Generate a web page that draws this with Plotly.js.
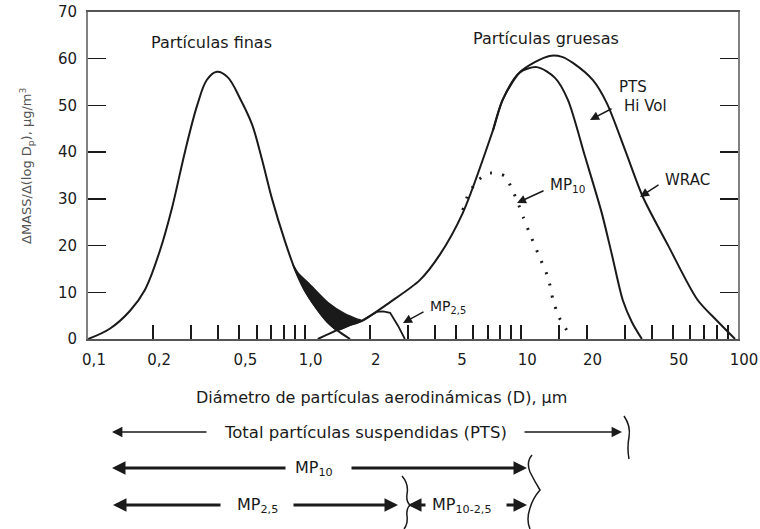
<!DOCTYPE html>
<html>
<head>
<meta charset="utf-8">
<script src="https://cdn.plot.ly/plotly-3.0.1.min.js"></script>
<style>html,body{margin:0;padding:0;background:#fff;}#chart{width:760px;height:529px;}</style>
</head>
<body>
<div id="chart"></div>
<script>
// ---- Data (diameter in µm, value in µg/m³) ----
const fineX = [0.1, 0.126, 0.156, 0.183, 0.215, 0.244, 0.28, 0.319, 0.354, 0.394, 0.442, 0.503, 0.571, 0.635, 0.707, 0.81, 0.9, 0.99, 1.12, 1.27, 1.41, 1.62];
const fineY = [0, 2.2, 6, 10.5, 19, 28, 40, 50, 55.5, 57.2, 56, 51.5, 46, 38.5, 30, 21, 15, 10.8, 6.9, 3.7, 1.9, 0];

const bandUpperX = [0.88, 0.93, 1.06, 1.28, 1.53, 1.74, 1.84];
const bandUpperY = [16, 14.2, 11.6, 7.8, 5.4, 4.3, 3.9];
const bandLowerX = [1.6, 1.41, 1.27, 1.12, 0.99, 0.88];
const bandLowerY = [2.9, 1.9, 3.7, 6.9, 10.8, 16];

const hivolX = [1.15, 1.41, 1.6, 1.84, 2.48, 3.4, 4.2, 5.37, 7.4, 8.2, 9.8, 11.8, 14.3, 16.4, 19.7, 23.5, 26.2, 29.4, 32.4, 36];
const hivolY = [0, 1.9, 2.9, 3.9, 7.9, 12.6, 18, 27, 44.7, 51.2, 57.0, 58.2, 55.9, 51.2, 39, 27, 18, 8.3, 3.6, 0];

const wracX = [7.4, 8.2, 9.8, 11.6, 13.5, 15.4, 17.3, 21.4, 24.8, 30.1, 36.4, 47.5, 65, 80, 96.9];
const wracY = [44.7, 51.2, 57.0, 59.3, 60.6, 60.4, 59.1, 55.4, 50.5, 40.5, 30.4, 20.1, 8.4, 3.9, 0];

const mp10X = [5.37, 5.67, 6.3, 7.16, 8.4, 9.05, 9.65, 10.2, 11.0, 12.2, 13.3, 14.0, 14.9, 16.4];
const mp10Y = [27.6, 30.8, 34, 35.5, 34.9, 32.1, 29.1, 26.1, 22.3, 17.3, 13.1, 8.4, 4.7, 1.5];

const mp25X = [1.84, 2.0, 2.15, 2.3, 2.48, 2.7, 2.9];
const mp25Y = [3.9, 5.0, 5.8, 5.9, 5.6, 2.8, 0];

const xTickVals = [0.1,0.2,0.3,0.4,0.5,0.6,0.7,0.8,0.9,1,2,3,4,5,6,7,8,9,10,15,20,30,40,50,60,70,80,90,100];
const xTickText = ['0,1','0,2','','','0,5','','','','','1,0','2','','','5','','','','','10','','20','','','50','','','','','100'];
const yTickVals = [0,10,20,30,40,50,60,70];

// ---- helpers for pixel placement of decorations ----
const PX = px => (px - 88) / 650;
const PY = py => (339 - py) / 327;
const FONT = 'DejaVu Sans, Liberation Sans, Arial, sans-serif';
const INK = '#1a1a1a';

const line = {color: INK, width: 2, shape: 'spline', smoothing: 1};
const traces = [
  {x: fineX, y: fineY, mode: 'lines', line: line},
  {x: bandUpperX.concat(bandLowerX), y: bandUpperY.concat(bandLowerY), mode: 'lines',
   fill: 'toself', fillcolor: INK, line: {color: INK, width: 1.5, shape: 'spline', smoothing: 0.6}},
  {x: hivolX, y: hivolY, mode: 'lines', line: {color: INK, width: 2, shape: 'spline', smoothing: 0.8}},
  {x: wracX, y: wracY, mode: 'lines', line: {color: INK, width: 2, shape: 'spline', smoothing: 0.8}},
  {x: mp25X, y: mp25Y, mode: 'lines', line: {color: INK, width: 1.8, shape: 'linear'}},
  {x: mp10X, y: mp10Y, mode: 'lines', line: {color: INK, width: 3, dash: '2px,10px', shape: 'spline', smoothing: 0.6}}
].map(t => Object.assign(t, {hoverinfo: 'skip', showlegend: false}));

function T(text, px, py, size, xanchor, extra) {
  return Object.assign({text: text, x: PX(px), y: PY(py), xref: 'paper', yref: 'paper',
    showarrow: false, xanchor: xanchor || 'center', yanchor: 'middle',
    font: {family: FONT, size: size, color: INK}}, extra || {});
}
function A(tailX, tailY, tipX, tipY, width, size) {
  return {text: '', x: PX(tipX), y: PY(tipY), xref: 'paper', yref: 'paper',
    ax: tailX - tipX, ay: tailY - tipY, showarrow: true, arrowhead: 2,
    arrowwidth: width, arrowsize: size, arrowcolor: INK, standoff: 0, startstandoff: 0};
}

const annotations = [
  T('Partículas finas', 211, 42, 16),
  T('Partículas gruesas', 546, 39, 16),
  T('PTS', 617, 87, 15, 'left'),
  T('Hi Vol', 622, 106, 15, 'left'),
  T('WRAC', 663, 180, 15, 'left'),
  T('MP<sub>10</sub>', 548, 185, 15, 'left'),
  T('MP<sub>2,5</sub>', 428, 307, 14, 'left'),
  A(613, 108, 590, 120, 1.5, 1.2),
  A(660, 184, 640, 197, 1.5, 1.2),
  A(545, 190, 517, 203, 1.5, 1.2),
  A(425, 311, 403, 323, 1.5, 1.2),
  T('ΔMASS/Δ(log D<sub>p</sub>), μg/m<sup>3</sup>', 27, 166, 13, 'center', {textangle: -90, font: {family: FONT, size: 13, color: '#555'}}),
  T('Diámetro de partículas aerodinámicas (D), μm', 381, 398, 16),
  // PTS row
  A(208, 432, 112, 432, 1.6, 1.3),
  T('Total partículas suspendidas (PTS)', 365, 432, 16.5),
  A(523, 432, 622, 432, 1.6, 1.3),
  // MP10 row
  A(287, 468, 112, 468, 3, 0.9),
  T('MP<sub>10</sub>', 293, 468, 16, 'left'),
  A(350, 468, 527, 468, 3, 0.9),
  // MP2.5 row
  A(222, 505, 113, 505, 3, 0.9),
  T('MP<sub>2,5</sub>', 235, 505, 16, 'left'),
  A(292, 505, 398, 505, 3, 0.9),
  A(427, 505, 408, 505, 3, 0.9),
  T('MP<sub>10-2,5</sub>', 430, 505, 16, 'left'),
  A(505, 505, 527, 505, 3, 0.9)
];

function pathStr(cmds) {
  return cmds.map(c => {
    const pts = [];
    for (let i = 1; i < c.length; i += 2) pts.push(PX(c[i]).toFixed(4) + ',' + PY(c[i + 1]).toFixed(4));
    return c[0] + pts.join(' ');
  }).join(' ');
}
const braceStyle = {color: INK, width: 1.5};
const shapes = [
  {type: 'path', xref: 'paper', yref: 'paper', line: braceStyle,
   path: pathStr([['M', 624, 416], ['Q', 631, 426, 629, 437], ['Q', 627, 448, 629, 459]])},
  {type: 'path', xref: 'paper', yref: 'paper', line: braceStyle,
   path: pathStr([['M', 532, 455], ['Q', 526, 462, 530, 472], ['Q', 535, 482, 540, 490], ['Q', 533, 498, 530, 508], ['Q', 526, 520, 530, 529]])},
  {type: 'path', xref: 'paper', yref: 'paper', line: braceStyle,
   path: pathStr([['M', 402, 476], ['Q', 409, 484, 407, 494], ['Q', 406, 502, 410, 505], ['Q', 406, 509, 407, 516], ['Q', 408, 524, 404, 529]])}
];

const layout = {
  width: 760, height: 529,
  margin: {l: 88, r: 22, t: 12, b: 190},
  paper_bgcolor: '#fff', plot_bgcolor: '#fff',
  showlegend: false,
  font: {family: FONT, color: INK},
  xaxis: {
    type: 'log', range: [-1, 2], showgrid: false, zeroline: false,
    tickmode: 'array', tickvals: xTickVals, ticktext: xTickText,
    ticks: 'inside', ticklen: 14, tickwidth: 2, tickcolor: INK,
    showline: true, linecolor: '#555', linewidth: 2, mirror: true,
    tickfont: {family: FONT, size: 15, color: INK},
    ticklabelstandoff: 6, ticklabelshift: 6
  },
  yaxis: {
    range: [0, 70], showgrid: false, zeroline: false,
    tickmode: 'array', tickvals: yTickVals,
    ticks: 'inside', ticklen: 18, tickwidth: 1.5, tickcolor: INK,
    showline: true, linecolor: '#808080', linewidth: 2, mirror: 'ticks',
    tickfont: {family: FONT, size: 15, color: INK},
    ticklabelstandoff: 6
  },
  annotations: annotations,
  shapes: shapes
};

Plotly.newPlot('chart', traces, layout, {staticPlot: true, displayModeBar: false});
</script>
</body>
</html>
